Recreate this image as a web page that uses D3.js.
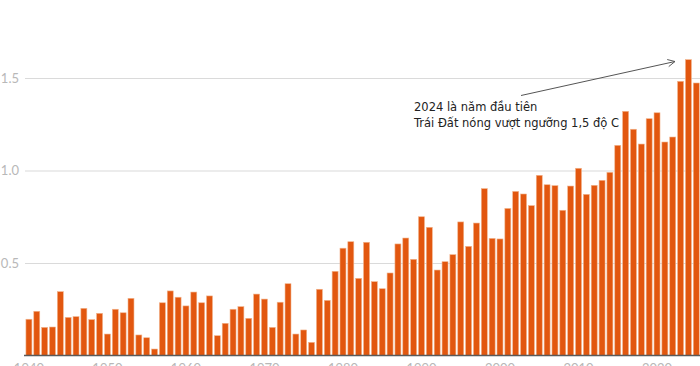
<!DOCTYPE html>
<html>
<head>
<meta charset="utf-8">
<script src="https://cdn.jsdelivr.net/npm/d3@7"></script>
<style>
  body { margin: 0; background: #fff; }
  svg { display: block; }
</style>
</head>
<body>
<div class="chart"></div>
<script>
const years = d3.range(1940, 2026);
const anomalies = [
  0.196, 0.239, 0.152, 0.154, 0.345, 0.206, 0.21, 0.255, 0.194, 0.228,
  0.116, 0.25, 0.231, 0.309, 0.111, 0.096, 0.035, 0.285, 0.349, 0.315,
  0.268, 0.343, 0.285, 0.322, 0.107, 0.174, 0.25, 0.264, 0.201, 0.332,
  0.305, 0.152, 0.288, 0.388, 0.116, 0.138, 0.071, 0.358, 0.298, 0.455,
  0.58, 0.615, 0.417, 0.612, 0.399, 0.361, 0.446, 0.603, 0.635, 0.52,
  0.75, 0.693, 0.462, 0.507, 0.545, 0.722, 0.59, 0.716, 0.902, 0.633,
  0.63, 0.795, 0.887, 0.873, 0.81, 0.974, 0.923, 0.918, 0.785, 0.916,
  1.012, 0.871, 0.92, 0.947, 0.99, 1.136, 1.32, 1.223, 1.143, 1.28,
  1.312, 1.154, 1.181, 1.482, 1.599, 1.473
];
const yTicks = [0.5, 1.0, 1.5];
const xTicks = [1940, 1950, 1960, 1970, 1980, 1990, 2000, 2010, 2020];
const noteLines = ["2024 là năm đầu tiên", "Trái Đất nóng vượt ngưỡng 1,5 độ C"];

const data = years.map((y, i) => ({ year: y, value: anomalies[i] }));

const totalWidth = 700;
const totalHeight = 366;
const margin = { top: 22.5, left: 25, right: 0, bottom: 10.5 };

const svg = d3
  .select(".chart")
  .append("svg")
  .attr("width", totalWidth)
  .attr("height", totalHeight);

const xScale = d3
  .scaleBand()
  .domain(years)
  .range([margin.left, totalWidth - margin.right + 0.2])
  .paddingInner(0.24)
  .paddingOuter(0.12);

const yScale = d3
  .scaleLinear()
  .domain([0, 1.8])
  .range([totalHeight - margin.bottom, margin.top]);

// gridlines + labels
const yAxis = d3
  .axisLeft(yScale)
  .tickValues(yTicks)
  .tickFormat(d3.format(".1f"))
  .tickSize(-(totalWidth - margin.left))
  .tickPadding(6);

const yAxisGroup = svg
  .append("g")
  .attr("transform", `translate(${margin.left}, 0)`)
  .call(yAxis);

yAxisGroup.select(".domain").remove();
yAxisGroup.selectAll(".tick line").attr("stroke", "#dadada").attr("stroke-width", 1.2);
yAxisGroup
  .selectAll(".tick text")
  .attr("fill", "#b8b8b8")
  .attr("font-family", "Lato, 'Open Sans', sans-serif")
  .attr("font-size", 13);

svg
  .append("g")
  .selectAll("rect")
  .data(data)
  .enter()
  .append("rect")
  .attr("x", (d) => xScale(d.year))
  .attr("width", xScale.bandwidth())
  .attr("y", (d) => yScale(d.value))
  .attr("height", (d) => yScale(0) - yScale(d.value))
  .attr("fill", "#e2570f")
  .attr("stroke", "#f2b48c")
  .attr("stroke-width", 0.6);

// baseline
svg
  .append("line")
  .attr("x1", margin.left - 1)
  .attr("x2", totalWidth)
  .attr("y1", yScale(0))
  .attr("y2", yScale(0))
  .attr("stroke", "#5a5a5a")
  .attr("stroke-width", 1.5);

const xAxis = d3.axisBottom(xScale).tickValues(xTicks).tickSize(0).tickPadding(8);

const xAxisGroup = svg
  .append("g")
  .attr("transform", `translate(0, ${yScale(0)})`)
  .call(xAxis);

xAxisGroup.select(".domain").remove();
xAxisGroup
  .selectAll(".tick text")
  .attr("fill", "#b8b8b8")
  .attr("font-family", "Lato, 'Open Sans', sans-serif")
  .attr("font-size", 13);

// annotation
svg
  .append("defs")
  .append("marker")
  .attr("id", "arrow")
  .attr("viewBox", "0 0 10 10")
  .attr("refX", 9)
  .attr("refY", 5)
  .attr("markerWidth", 9)
  .attr("markerHeight", 9)
  .attr("orient", "auto")
  .append("path")
  .attr("d", "M1,1 L9,5 L1,9")
  .attr("fill", "none")
  .attr("stroke", "#555")
  .attr("stroke-width", 1);

svg
  .append("line")
  .attr("x1", 521)
  .attr("y1", 95.5)
  .attr("x2", 675)
  .attr("y2", 61.5)
  .attr("stroke", "#555")
  .attr("stroke-width", 1)
  .attr("marker-end", "url(#arrow)");

svg
  .append("text")
  .attr("x", 414)
  .attr("y", 111)
  .attr("fill", "#222")
  .attr("font-family", "'DejaVu Sans', sans-serif")
  .attr("font-size", 11.5)
  .selectAll("tspan")
  .data(noteLines)
  .enter()
  .append("tspan")
  .attr("x", 414)
  .attr("dy", (d, i) => (i === 0 ? 0 : 16))
  .text((d) => d);
</script>
</body>
</html>
